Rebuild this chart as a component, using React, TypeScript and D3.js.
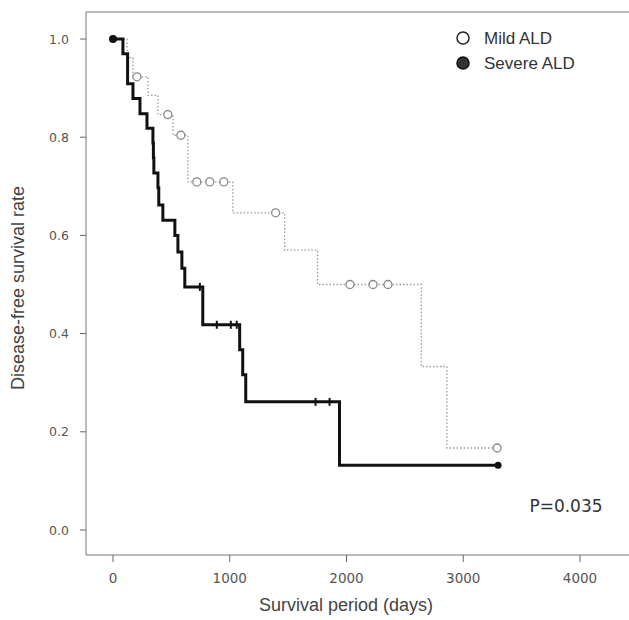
import React from "react";
import * as d3 from "d3";

const xTicks = [0, 1000, 2000, 3000, 4000];
const yTicks = [0, 0.2, 0.4, 0.6, 0.8, 1.0];

const mildEventDays = [120, 170, 300, 385, 513, 641, 1026, 1470, 1752, 2641, 2860];
const mildSurv = [0.962, 0.923, 0.885, 0.846, 0.804, 0.709, 0.646, 0.57, 0.5, 0.333, 0.167];
const mildCensorDays = [205, 470, 581, 718, 829, 949, 1393, 2030, 2227, 2355, 3290];
const mildEnd = 3290;

const severeEventDays = [85, 125, 171, 231, 291, 342, 346, 350, 385, 392, 427, 530, 556, 590, 615, 769, 1085, 1111, 1137, 1940];
const severeSurv = [0.97, 0.909, 0.879, 0.848, 0.818, 0.788, 0.758, 0.727, 0.697, 0.662, 0.631, 0.6, 0.566, 0.533, 0.495, 0.418, 0.367, 0.316, 0.261, 0.132];
const severeCensorDays = [744, 889, 1009, 1060, 1735, 1855];
const severeEnd = 3298;

const legendLabels = ["Mild ALD", "Severe ALD"];

const x = d3.scaleLinear().domain([0, 4000]).range([113, 580]);
const y = d3.scaleLinear().domain([0, 1]).range([530, 39]);

function stepPoints(days: number[], surv: number[], end: number): [number, number][] {
  const pts: [number, number][] = [[0, 1]];
  days.forEach((d, i) => pts.push([d, surv[i]]));
  pts.push([end, surv[surv.length - 1]]);
  return pts;
}

function survAt(days: number[], surv: number[], t: number): number {
  let s = 1;
  days.forEach((d, i) => {
    if (d <= t) s = surv[i];
  });
  return s;
}

const line = d3
  .line<[number, number]>()
  .x((d) => x(d[0]))
  .y((d) => y(d[1]))
  .curve(d3.curveStepAfter);

const sans = "'Liberation Sans', Arial, sans-serif";
const dv = "'DejaVu Sans', sans-serif";

export default function App() {
  const mildPath = line(stepPoints(mildEventDays, mildSurv, mildEnd)) || "";
  const severePath = line(stepPoints(severeEventDays, severeSurv, severeEnd)) || "";
  return (
    <svg width={629} height={620} style={{ position: "absolute", left: 0, top: 0, background: "#fff" }}>
      {/* frame (right side runs off the image) */}
      <path d="M629,12 H86 V555 H629" fill="none" stroke="#777" strokeWidth={1} />
      {/* y axis ticks */}
      {yTicks.map((t) => (
        <g key={"y" + t}>
          <line x1={80} x2={86} y1={y(t)} y2={y(t)} stroke="#666" />
          <text x={69} y={y(t) + 4.5} textAnchor="end" fontFamily={dv} fontSize={12.5} fill="#555">
            {t.toFixed(1)}
          </text>
        </g>
      ))}
      {/* x axis ticks */}
      {xTicks.map((t) => (
        <g key={"x" + t}>
          <line x1={x(t)} x2={x(t)} y1={555} y2={562} stroke="#666" />
          <text x={x(t)} y={583} textAnchor="middle" fontFamily={dv} fontSize={13.5} fill="#555">
            {t}
          </text>
        </g>
      ))}
      <text x={346} y={611} textAnchor="middle" fontFamily={sans} fontSize={18} fill="#444">
        Survival period (days)
      </text>
      <text
        transform="translate(24,288) rotate(-90)"
        textAnchor="middle"
        fontFamily={sans}
        fontSize={18}
        fill="#444"
      >
        Disease-free survival rate
      </text>

      {/* mild curve */}
      <path d={mildPath} fill="none" stroke="#9a9a9a" strokeWidth={1.3} strokeDasharray="1.5,2" />
      {mildCensorDays.map((d, i) => (
        <circle
          key={"mc" + i}
          cx={x(d)}
          cy={y(survAt(mildEventDays, mildSurv, d))}
          r={4}
          fill="#fff"
          stroke="#888"
          strokeWidth={1.3}
        />
      ))}

      {/* severe curve */}
      <path d={severePath} fill="none" stroke="#111" strokeWidth={3} />
      {severeCensorDays.map((d, i) => {
        const yy = y(survAt(severeEventDays, severeSurv, d));
        return <line key={"sc" + i} x1={x(d)} x2={x(d)} y1={yy - 4} y2={yy + 4} stroke="#111" strokeWidth={2} />;
      })}
      <circle cx={x(0)} cy={y(1)} r={4} fill="#111" />
      <circle cx={x(severeEnd)} cy={y(survAt(severeEventDays, severeSurv, severeEnd))} r={3.5} fill="#111" />

      {/* legend */}
      <circle cx={463} cy={38} r={6} fill="#fff" stroke="#222" strokeWidth={1.5} />
      <text x={484} y={44} fontFamily={sans} fontSize={17} fill="#333">
        {legendLabels[0]}
      </text>
      <circle cx={463} cy={63} r={6} fill="#333" stroke="#111" strokeWidth={1.5} />
      <text x={484} y={69} fontFamily={sans} fontSize={17} fill="#333">
        {legendLabels[1]}
      </text>

      <text x={566} y={512} textAnchor="middle" fontFamily={dv} fontSize={17} fill="#333">
        P=0.035
      </text>
    </svg>
  );
}
